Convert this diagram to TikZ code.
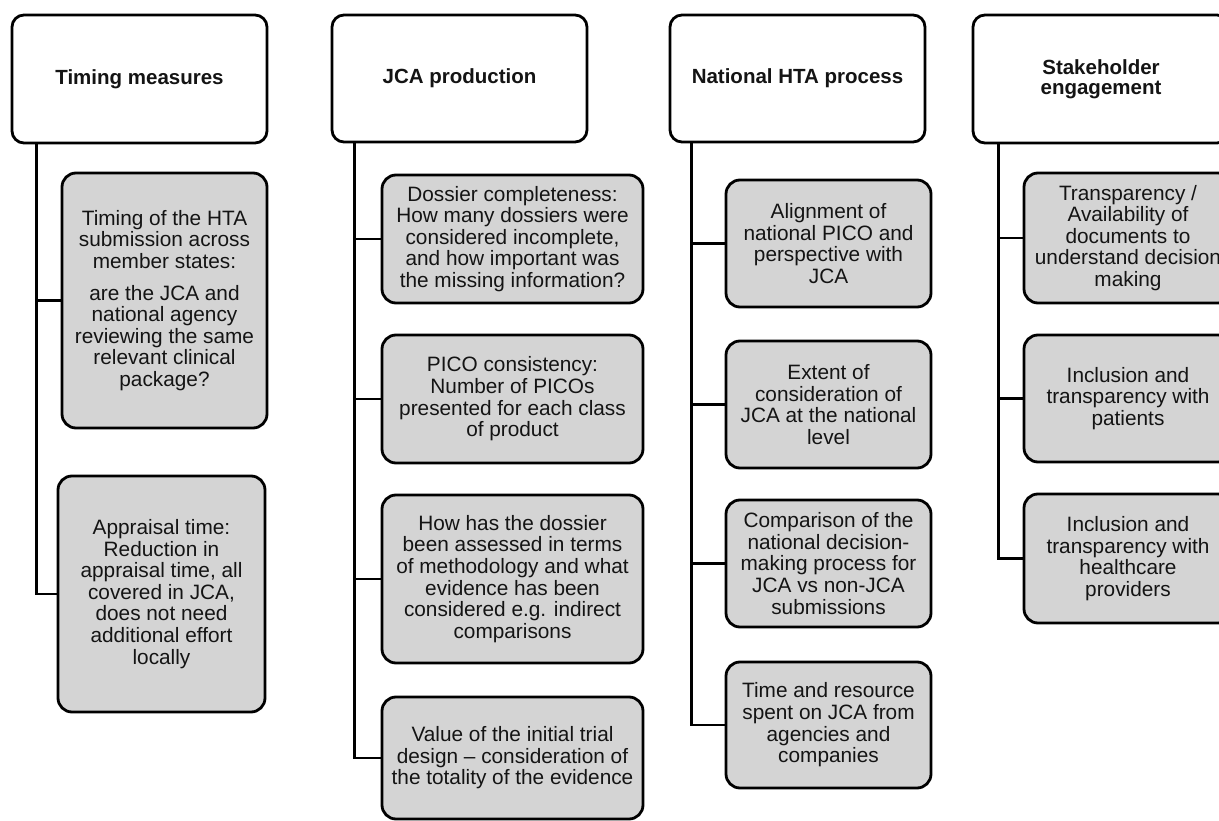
\documentclass[tikz,border=0pt]{standalone}
\usepackage{fontspec}
\setmainfont{Liberation Sans}
\definecolor{boxgray}{RGB}{212,212,212}
\definecolor{ink}{RGB}{20,20,20}
\tikzset{
  hdr/.style={draw=black, line width=2.8pt, fill=white, rounded corners=12pt,
    inner sep=0pt, align=center, text=ink,
    font=\fontsize{20.5}{20.5}\selectfont\bfseries},
  sub/.style={draw=black, line width=2.8pt, fill=boxgray, rounded corners=14pt,
    inner sep=0pt, align=center, text=ink,
    font=\fontsize{20.8}{21.6}\selectfont},
  link/.style={line width=2.8pt, draw=black},
}
\begin{document}
\begin{tikzpicture}[x=1pt, y=-1pt]
\useasboundingbox (0,0) rectangle (1219,821);
\clip (0,0) rectangle (1219,821);
% headers
\node[hdr, minimum width=255pt, minimum height=128pt] (h1) at (139.5,79) {Timing measures};
\node[hdr, minimum width=255pt, minimum height=127pt] (h2) at (459.5,78.5) {JCA production};
\node[hdr, minimum width=255pt, minimum height=127pt] (h3) at (797.5,78.5) {National HTA process};
\node[hdr, minimum width=256pt, minimum height=128pt] (h4) at (1101,79) {Stakeholder\\engagement};
% column 1
\node[sub, minimum width=205pt, minimum height=255pt] (c11) at (164.5,300.5)
  {Timing of the HTA\\submission across\\member states:\\[10pt]are the JCA and\\national agency\\reviewing the same\\relevant clinical\\package?};
\node[sub, minimum width=207pt, minimum height=236pt] (c12) at (161.5,594)
  {Appraisal time:\\Reduction in\\appraisal time, all\\covered in JCA,\\does not need\\additional effort\\locally};
% column 2
\node[sub, minimum width=261pt, minimum height=128pt] (c21) at (512.5,239)
  {Dossier completeness:\\How many dossiers were\\considered incomplete,\\and how important was\\the missing information?};
\node[sub, minimum width=261pt, minimum height=128pt] (c22) at (512.5,399)
  {PICO consistency:\\Number of PICOs\\presented for each class\\of product};
\node[sub, minimum width=261pt, minimum height=168pt] (c23) at (512.5,579)
  {How has the dossier\\been assessed in terms\\of methodology and what\\evidence has been\\considered e.g. indirect\\comparisons};
\node[sub, minimum width=261pt, minimum height=122pt] (c24) at (512.5,758)
  {Value of the initial trial\\design -- consideration of\\the totality of the evidence};
% column 3
\node[sub, minimum width=205pt, minimum height=127pt] (c31) at (828.5,243.5)
  {Alignment of\\national PICO and\\perspective with\\JCA};
\node[sub, minimum width=205pt, minimum height=127pt] (c32) at (828.5,404.5)
  {Extent of\\consideration of\\JCA at the national\\level};
\node[sub, minimum width=205pt, minimum height=127pt] (c33) at (828.5,563.5)
  {Comparison of the\\national decision-\\making process for\\JCA vs non-JCA\\submissions};
\node[sub, minimum width=205pt, minimum height=126pt] (c34) at (828.5,725)
  {Time and resource\\spent on JCA from\\agencies and\\companies};
% column 4
\node[sub, minimum width=208pt, minimum height=130pt] (c41) at (1128,238)
  {Transparency /\\Availability of\\documents to\\understand decision\\making};
\node[sub, minimum width=208pt, minimum height=127pt] (c42) at (1128,398.5)
  {Inclusion and\\transparency with\\patients};
\node[sub, minimum width=208pt, minimum height=129pt] (c43) at (1128,558.5)
  {Inclusion and\\transparency with\\healthcare\\providers};
% connectors
\draw[link] ([xshift=26pt]h1.south west) |- (c11.west);
\draw[link] ([xshift=26pt]h1.south west) |- (c12.west);
\draw[link] ([xshift=24pt]h2.south west) |- (c21.west);
\draw[link] ([xshift=24pt]h2.south west) |- (c22.west);
\draw[link] ([xshift=24pt]h2.south west) |- (c23.west);
\draw[link] ([xshift=24pt]h2.south west) |- (c24.west);
\draw[link] ([xshift=23pt]h3.south west) |- (c31.west);
\draw[link] ([xshift=23pt]h3.south west) |- (c32.west);
\draw[link] ([xshift=23pt]h3.south west) |- (c33.west);
\draw[link] ([xshift=23pt]h3.south west) |- (c34.west);
\draw[link] ([xshift=27pt]h4.south west) |- (c41.west);
\draw[link] ([xshift=27pt]h4.south west) |- (c42.west);
\draw[link] ([xshift=27pt]h4.south west) |- (c43.west);
\end{tikzpicture}
\end{document}
